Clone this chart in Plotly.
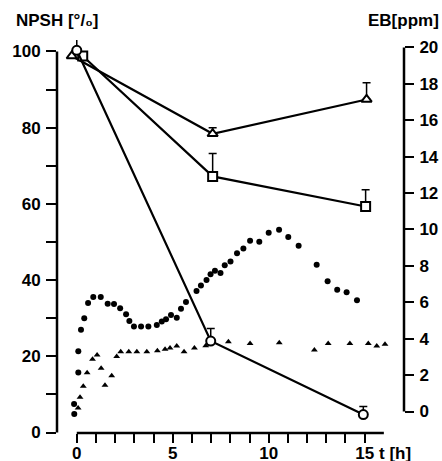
import plotly.graph_objects as go

# --- data -----------------------------------------------------------
# NPSH (% of control), left axis
t_tri = [-0.26, 7.08, 15.1]
npsh_tri = [98.8, 78.4, 87.4]
err_tri = [None, 1.6, 4.4]

t_sq = [0.31, 7.08, 15.05]
npsh_sq = [98.8, 67.2, 59.3]
err_sq = [None, 6.0, 4.4]

t_circ = [0.0, 6.98, 14.93]
npsh_circ = [100.3, 24.0, 4.7]
err_circ = [3.0, 3.3, 2.1]

# EB (ppm), right axis - filled circles
t_dot = [-0.13, -0.14, 0.08, 0.08, 0.22, 0.39, 0.59, 0.86, 1.25, 1.61, 1.94, 2.26,
         2.57, 2.74, 2.98, 3.35, 3.73, 4.17, 4.43, 4.65, 4.91, 5.21, 5.43, 5.69,
         6.24, 6.47, 6.76, 6.97, 7.20, 7.49, 7.71, 8.01, 8.35, 8.68, 9.03, 9.51,
         10.0, 10.54, 11.02, 11.56, 12.5, 13.07, 13.57, 14.06, 14.6]
eb_dot = [-0.14, 0.41, 2.14, 3.31, 4.49, 5.12, 5.96, 6.29, 6.29, 5.92, 5.90, 5.67,
          5.34, 4.97, 4.67, 4.67, 4.67, 4.75, 4.94, 5.07, 5.30, 5.15, 5.65, 6.01,
          6.62, 6.92, 7.22, 7.54, 7.74, 7.61, 8.04, 8.24, 8.69, 8.96, 9.38, 9.33,
          9.82, 9.99, 9.59, 9.11, 8.06, 7.15, 6.69, 6.55, 6.11]

# EB (ppm), right axis - filled triangles
t_tdot = [0.07, 0.17, 0.34, 0.54, 0.82, 1.06, 1.27, 1.47, 1.82, 2.08, 2.29, 2.71,
          3.13, 3.65, 4.20, 4.60, 4.86, 5.21, 5.59, 6.13, 6.72, 7.90, 9.03, 10.55,
          12.38, 13.10, 14.23, 15.19, 15.63, 16.06]
eb_tdot = [0.19, 0.79, 1.39, 2.13, 2.87, 3.10, 2.38, 1.45, 1.96, 3.02, 3.29, 3.28,
           3.28, 3.28, 3.34, 3.42, 3.49, 3.60, 3.28, 3.49, 3.61, 3.83, 3.74, 3.78,
           3.38, 3.74, 3.74, 3.74, 3.60, 3.69]

x_major = [0, 5, 10, 15]
x_minor = [1, 2, 3, 4, 6, 7, 8, 9, 11, 12, 13, 14]
y_major = [0, 20, 40, 60, 80, 100]
y_minor = [10, 30, 50, 70, 90]
y2_ticks = [0, 2, 4, 6, 8, 10, 12, 14, 16, 18, 20]

FONT = "Liberation Sans"
K = "black"

fig = go.Figure()

fig.add_trace(go.Scatter(x=t_dot, y=eb_dot, yaxis="y2", mode="markers",
                         marker=dict(symbol="circle", size=6, color=K)))
fig.add_trace(go.Scatter(x=t_tdot, y=eb_tdot, yaxis="y2", mode="markers",
                         marker=dict(symbol="triangle-up", size=6, color=K)))

for tx, ty, te, sym in [(t_tri, npsh_tri, err_tri, "triangle-up"),
                        (t_sq, npsh_sq, err_sq, "square"),
                        (t_circ, npsh_circ, err_circ, "circle")]:
    fig.add_trace(go.Scatter(
        x=tx, y=ty, mode="lines+markers",
        line=dict(color=K, width=2.2),
        marker=dict(symbol=sym, size=9, color="white",
                    line=dict(color=K, width=2)),
        error_y=dict(type="data", array=te, arrayminus=[None] * len(te),
                     symmetric=False, color=K, thickness=1.5, width=4)))

# axis lines (detached style)
fig.add_shape(type="line", xref="paper", yref="y", x0=0, x1=0,
              y0=y_major[0], y1=y_major[-1], line=dict(color=K, width=2.5))
fig.add_shape(type="line", xref="x", yref="paper", x0=0, x1=16, y0=0, y1=0,
              line=dict(color=K, width=2.5))
fig.add_shape(type="line", xref="paper", yref="y2", x0=1, x1=1,
              y0=y2_ticks[0], y1=y2_ticks[-1], line=dict(color=K, width=2.5))

tickfont = dict(family=FONT, size=17, color=K, weight="bold")
fig.update_layout(
    width=442, height=461,
    margin=dict(l=57, r=38, t=40, b=28),
    paper_bgcolor="white", plot_bgcolor="white",
    showlegend=False,
    xaxis=dict(range=[-1.03, 17.05], showgrid=False, zeroline=False,
               showline=False, tickmode="array", tickvals=x_major,
               ticks="outside", ticklen=9, tickwidth=2, tickcolor=K,
               tickfont=tickfont, automargin=False, ticklabelstandoff=-4,
               minor=dict(tickmode="array", tickvals=x_minor, ticks="outside",
                          ticklen=9, tickwidth=2, tickcolor=K)),
    yaxis=dict(range=[-0.13, 103.0], showgrid=False, zeroline=False,
               showline=False, tickmode="array", tickvals=y_major,
               ticks="outside", ticklen=10, tickwidth=2, tickcolor=K,
               tickfont=tickfont, automargin=False, ticklabelstandoff=2,
               minor=dict(tickmode="array", tickvals=y_minor, ticks="outside",
                          ticklen=10, tickwidth=2, tickcolor=K)),
    yaxis2=dict(range=[-1.18, 20.41], overlaying="y", side="right",
                showgrid=False, zeroline=False, showline=False,
                tickmode="array", tickvals=y2_ticks, ticks="outside",
                ticklen=9, tickwidth=2, tickcolor=K, tickfont=tickfont,
                automargin=False, ticklabelstandoff=2),
    annotations=[
        dict(text="NPSH [°/₀]", xref="paper", yref="paper", x=-0.125, y=1.0,
             yshift=20, xanchor="left", yanchor="middle", showarrow=False,
             font=dict(family=FONT, size=17, color=K, weight="bold")),
        dict(text="EB[ppm]", xref="paper", yref="paper", x=1.108, y=1.0,
             yshift=20, xanchor="right", yanchor="middle", showarrow=False,
             font=dict(family=FONT, size=17, color=K, weight="bold")),
        dict(text="t [h]", xref="x", yref="paper", x=16.6, y=0, yshift=-20,
             xanchor="center", yanchor="middle", showarrow=False,
             font=dict(family=FONT, size=17, color=K, weight="bold")),
    ],
)

fig.write_html("out.html", config={"displayModeBar": False},
               post_script="document.body.style.margin='0px';document.body.style.padding='0px';")
